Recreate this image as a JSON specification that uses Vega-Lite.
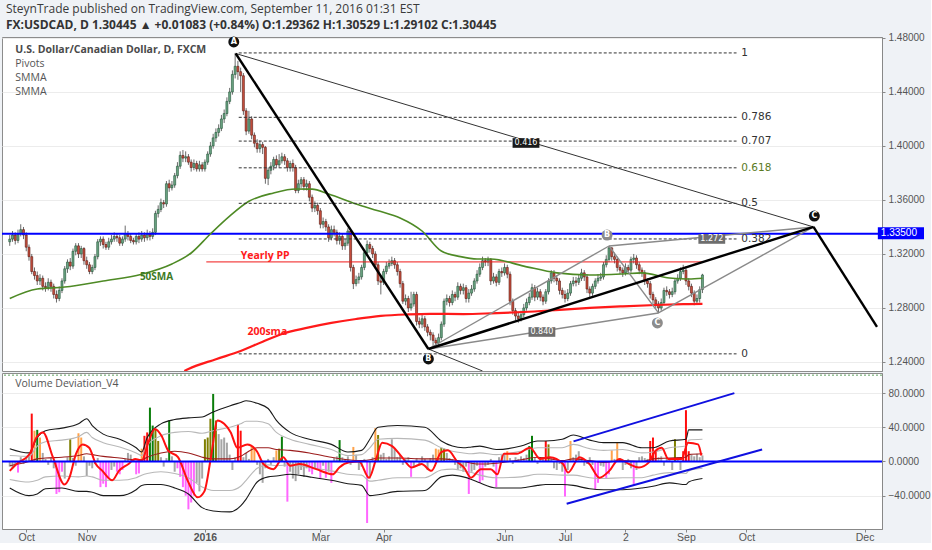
{
  "$schema": "https://vega.github.io/schema/vega-lite/v6.json",
  "background": "#eff2f6",
  "padding": {"left": 0, "top": 3, "right": 0, "bottom": 0},
  "title": {
    "text": "SteynTrade published on TradingView.com, September 11, 2016 01:31 EST",
    "subtitle": "FX:USDCAD, D  1.30445 ▲ +0.01083 (+0.84%)  O:1.29362  H:1.30529  L:1.29102  C:1.30445",
    "anchor": "start", "frame": "group", "dx": 4, "font": "Open Sans", "fontSize": 12, "fontWeight": "normal", "color": "#3a3a3a",
    "subtitleFont": "Open Sans", "subtitleFontSize": 12, "subtitleFontWeight": "bold", "subtitleColor": "#333333",
    "subtitlePadding": 4, "offset": 0
  },
  "datasets": {
    "bars": [
      {"i":0,"o":1.329,"h":1.334,"l":1.326,"c":1.331,"v":-6,"k":"N"},
      {"i":1,"o":1.331,"h":1.337,"l":1.329,"c":1.334,"v":-8,"k":"N"},
      {"i":2,"o":1.334,"h":1.336,"l":1.327,"c":1.330,"v":-4,"k":"N"},
      {"i":3,"o":1.330,"h":1.338,"l":1.328,"c":1.335,"v":-13,"k":"M"},
      {"i":4,"o":1.335,"h":1.342,"l":1.333,"c":1.338,"v":5,"k":"N"},
      {"i":5,"o":1.338,"h":1.340,"l":1.331,"c":1.334,"v":-3,"k":"N"},
      {"i":6,"o":1.334,"h":1.336,"l":1.322,"c":1.325,"v":4,"k":"N"},
      {"i":7,"o":1.325,"h":1.327,"l":1.315,"c":1.318,"v":8,"k":"N"},
      {"i":8,"o":1.318,"h":1.320,"l":1.305,"c":1.307,"v":56,"k":"R"},
      {"i":9,"o":1.307,"h":1.310,"l":1.301,"c":1.304,"v":36,"k":"Y"},
      {"i":10,"o":1.304,"h":1.307,"l":1.297,"c":1.300,"v":37,"k":"G"},
      {"i":11,"o":1.300,"h":1.305,"l":1.297,"c":1.302,"v":28,"k":"Y"},
      {"i":12,"o":1.302,"h":1.304,"l":1.293,"c":1.296,"v":10,"k":"N"},
      {"i":13,"o":1.296,"h":1.299,"l":1.292,"c":1.295,"v":3,"k":"N"},
      {"i":14,"o":1.295,"h":1.302,"l":1.293,"c":1.299,"v":-4,"k":"N"},
      {"i":15,"o":1.299,"h":1.301,"l":1.292,"c":1.296,"v":4,"k":"N"},
      {"i":16,"o":1.296,"h":1.298,"l":1.287,"c":1.290,"v":-8,"k":"N"},
      {"i":17,"o":1.290,"h":1.293,"l":1.284,"c":1.287,"v":-38,"k":"M"},
      {"i":18,"o":1.287,"h":1.296,"l":1.285,"c":1.293,"v":-36,"k":"M"},
      {"i":19,"o":1.293,"h":1.302,"l":1.291,"c":1.300,"v":-12,"k":"M"},
      {"i":20,"o":1.300,"h":1.311,"l":1.298,"c":1.309,"v":-20,"k":"N"},
      {"i":21,"o":1.309,"h":1.316,"l":1.306,"c":1.314,"v":5,"k":"N"},
      {"i":22,"o":1.314,"h":1.317,"l":1.308,"c":1.311,"v":26,"k":"O"},
      {"i":23,"o":1.311,"h":1.324,"l":1.309,"c":1.322,"v":4,"k":"N"},
      {"i":24,"o":1.322,"h":1.328,"l":1.319,"c":1.326,"v":-5,"k":"N"},
      {"i":25,"o":1.326,"h":1.328,"l":1.317,"c":1.320,"v":33,"k":"Y"},
      {"i":26,"o":1.320,"h":1.326,"l":1.317,"c":1.324,"v":28,"k":"Y"},
      {"i":27,"o":1.324,"h":1.325,"l":1.312,"c":1.315,"v":6,"k":"N"},
      {"i":28,"o":1.315,"h":1.318,"l":1.309,"c":1.312,"v":-17,"k":"N"},
      {"i":29,"o":1.312,"h":1.314,"l":1.305,"c":1.307,"v":-5,"k":"N"},
      {"i":30,"o":1.307,"h":1.312,"l":1.305,"c":1.310,"v":-8,"k":"N"},
      {"i":31,"o":1.310,"h":1.320,"l":1.308,"c":1.318,"v":-3,"k":"N"},
      {"i":32,"o":1.318,"h":1.331,"l":1.316,"c":1.329,"v":4,"k":"N"},
      {"i":33,"o":1.329,"h":1.333,"l":1.326,"c":1.331,"v":-30,"k":"M"},
      {"i":34,"o":1.331,"h":1.333,"l":1.324,"c":1.327,"v":-26,"k":"M"},
      {"i":35,"o":1.327,"h":1.329,"l":1.323,"c":1.325,"v":-30,"k":"M"},
      {"i":36,"o":1.325,"h":1.332,"l":1.323,"c":1.329,"v":-20,"k":"M"},
      {"i":37,"o":1.329,"h":1.334,"l":1.327,"c":1.331,"v":-10,"k":"N"},
      {"i":38,"o":1.331,"h":1.336,"l":1.329,"c":1.333,"v":-6,"k":"N"},
      {"i":39,"o":1.333,"h":1.335,"l":1.329,"c":1.332,"v":-12,"k":"M"},
      {"i":40,"o":1.332,"h":1.334,"l":1.326,"c":1.328,"v":-15,"k":"M"},
      {"i":41,"o":1.328,"h":1.333,"l":1.326,"c":1.331,"v":-10,"k":"M"},
      {"i":42,"o":1.331,"h":1.341,"l":1.329,"c":1.335,"v":3,"k":"N"},
      {"i":43,"o":1.335,"h":1.337,"l":1.330,"c":1.333,"v":10,"k":"N"},
      {"i":44,"o":1.333,"h":1.335,"l":1.328,"c":1.330,"v":8,"k":"N"},
      {"i":45,"o":1.330,"h":1.332,"l":1.327,"c":1.329,"v":3,"k":"N"},
      {"i":46,"o":1.329,"h":1.335,"l":1.327,"c":1.333,"v":-15,"k":"M"},
      {"i":47,"o":1.333,"h":1.336,"l":1.328,"c":1.331,"v":-14,"k":"M"},
      {"i":48,"o":1.331,"h":1.337,"l":1.329,"c":1.334,"v":15,"k":"Y"},
      {"i":49,"o":1.334,"h":1.336,"l":1.329,"c":1.332,"v":30,"k":"R"},
      {"i":50,"o":1.332,"h":1.338,"l":1.330,"c":1.335,"v":34,"k":"R"},
      {"i":51,"o":1.335,"h":1.337,"l":1.330,"c":1.333,"v":63,"k":"G"},
      {"i":52,"o":1.333,"h":1.339,"l":1.331,"c":1.336,"v":42,"k":"G"},
      {"i":53,"o":1.336,"h":1.352,"l":1.334,"c":1.350,"v":38,"k":"O"},
      {"i":54,"o":1.350,"h":1.356,"l":1.347,"c":1.353,"v":24,"k":"O"},
      {"i":55,"o":1.353,"h":1.361,"l":1.351,"c":1.358,"v":5,"k":"N"},
      {"i":56,"o":1.358,"h":1.360,"l":1.354,"c":1.357,"v":-6,"k":"N"},
      {"i":57,"o":1.357,"h":1.374,"l":1.355,"c":1.372,"v":4,"k":"N"},
      {"i":58,"o":1.372,"h":1.375,"l":1.366,"c":1.369,"v":48,"k":"G"},
      {"i":59,"o":1.369,"h":1.374,"l":1.367,"c":1.371,"v":6,"k":"N"},
      {"i":60,"o":1.371,"h":1.380,"l":1.369,"c":1.378,"v":-12,"k":"N"},
      {"i":61,"o":1.378,"h":1.388,"l":1.376,"c":1.385,"v":-8,"k":"M"},
      {"i":62,"o":1.385,"h":1.396,"l":1.383,"c":1.393,"v":-18,"k":"M"},
      {"i":63,"o":1.393,"h":1.397,"l":1.388,"c":1.391,"v":-30,"k":"M"},
      {"i":64,"o":1.391,"h":1.396,"l":1.388,"c":1.392,"v":-40,"k":"M"},
      {"i":65,"o":1.392,"h":1.394,"l":1.386,"c":1.388,"v":-56,"k":"M"},
      {"i":66,"o":1.388,"h":1.390,"l":1.381,"c":1.384,"v":-48,"k":"M"},
      {"i":67,"o":1.384,"h":1.390,"l":1.382,"c":1.387,"v":-40,"k":"M"},
      {"i":68,"o":1.387,"h":1.389,"l":1.381,"c":1.383,"v":-25,"k":"N"},
      {"i":69,"o":1.383,"h":1.389,"l":1.381,"c":1.386,"v":-35,"k":"N"},
      {"i":70,"o":1.386,"h":1.388,"l":1.381,"c":1.383,"v":-20,"k":"N"},
      {"i":71,"o":1.383,"h":1.390,"l":1.381,"c":1.388,"v":26,"k":"O"},
      {"i":72,"o":1.388,"h":1.396,"l":1.386,"c":1.394,"v":28,"k":"O"},
      {"i":73,"o":1.394,"h":1.403,"l":1.392,"c":1.400,"v":50,"k":"O"},
      {"i":74,"o":1.400,"h":1.409,"l":1.398,"c":1.406,"v":79,"k":"G"},
      {"i":75,"o":1.406,"h":1.413,"l":1.403,"c":1.410,"v":48,"k":"O"},
      {"i":76,"o":1.410,"h":1.416,"l":1.407,"c":1.413,"v":32,"k":"N"},
      {"i":77,"o":1.413,"h":1.423,"l":1.411,"c":1.420,"v":26,"k":"N"},
      {"i":78,"o":1.420,"h":1.427,"l":1.417,"c":1.424,"v":28,"k":"N"},
      {"i":79,"o":1.424,"h":1.436,"l":1.422,"c":1.433,"v":22,"k":"N"},
      {"i":80,"o":1.433,"h":1.443,"l":1.431,"c":1.440,"v":8,"k":"N"},
      {"i":81,"o":1.440,"h":1.456,"l":1.438,"c":1.453,"v":-10,"k":"N"},
      {"i":82,"o":1.453,"h":1.4689,"l":1.450,"c":1.459,"v":5,"k":"N"},
      {"i":83,"o":1.459,"h":1.463,"l":1.449,"c":1.455,"v":43,"k":"R"},
      {"i":84,"o":1.455,"h":1.458,"l":1.440,"c":1.452,"v":36,"k":"R"},
      {"i":85,"o":1.452,"h":1.454,"l":1.423,"c":1.426,"v":5,"k":"N"},
      {"i":86,"o":1.426,"h":1.428,"l":1.408,"c":1.411,"v":10,"k":"N"},
      {"i":87,"o":1.411,"h":1.426,"l":1.409,"c":1.420,"v":3,"k":"N"},
      {"i":88,"o":1.420,"h":1.422,"l":1.405,"c":1.408,"v":18,"k":"Y"},
      {"i":89,"o":1.408,"h":1.410,"l":1.399,"c":1.402,"v":15,"k":"Y"},
      {"i":90,"o":1.402,"h":1.405,"l":1.395,"c":1.398,"v":-4,"k":"N"},
      {"i":91,"o":1.398,"h":1.404,"l":1.395,"c":1.401,"v":-15,"k":"N"},
      {"i":92,"o":1.401,"h":1.403,"l":1.394,"c":1.399,"v":-25,"k":"N"},
      {"i":93,"o":1.399,"h":1.400,"l":1.372,"c":1.376,"v":-8,"k":"N"},
      {"i":94,"o":1.376,"h":1.384,"l":1.371,"c":1.382,"v":3,"k":"N"},
      {"i":95,"o":1.382,"h":1.388,"l":1.379,"c":1.385,"v":-4,"k":"N"},
      {"i":96,"o":1.385,"h":1.392,"l":1.382,"c":1.390,"v":5,"k":"N"},
      {"i":97,"o":1.390,"h":1.393,"l":1.384,"c":1.386,"v":13,"k":"Y"},
      {"i":98,"o":1.386,"h":1.394,"l":1.384,"c":1.389,"v":15,"k":"O"},
      {"i":99,"o":1.389,"h":1.395,"l":1.387,"c":1.392,"v":29,"k":"G"},
      {"i":100,"o":1.392,"h":1.394,"l":1.386,"c":1.389,"v":-6,"k":"N"},
      {"i":101,"o":1.389,"h":1.391,"l":1.381,"c":1.384,"v":-47,"k":"M"},
      {"i":102,"o":1.384,"h":1.389,"l":1.381,"c":1.387,"v":-12,"k":"N"},
      {"i":103,"o":1.387,"h":1.390,"l":1.381,"c":1.384,"v":-20,"k":"N"},
      {"i":104,"o":1.384,"h":1.386,"l":1.365,"c":1.367,"v":-23,"k":"N"},
      {"i":105,"o":1.367,"h":1.375,"l":1.365,"c":1.372,"v":-15,"k":"N"},
      {"i":106,"o":1.372,"h":1.377,"l":1.369,"c":1.375,"v":-10,"k":"N"},
      {"i":107,"o":1.375,"h":1.377,"l":1.367,"c":1.370,"v":-18,"k":"N"},
      {"i":108,"o":1.370,"h":1.375,"l":1.367,"c":1.372,"v":-8,"k":"N"},
      {"i":109,"o":1.372,"h":1.374,"l":1.359,"c":1.362,"v":-12,"k":"M"},
      {"i":110,"o":1.362,"h":1.364,"l":1.351,"c":1.354,"v":-15,"k":"M"},
      {"i":111,"o":1.354,"h":1.359,"l":1.351,"c":1.356,"v":-8,"k":"N"},
      {"i":112,"o":1.356,"h":1.358,"l":1.349,"c":1.352,"v":-10,"k":"M"},
      {"i":113,"o":1.352,"h":1.354,"l":1.339,"c":1.342,"v":-20,"k":"M"},
      {"i":114,"o":1.342,"h":1.347,"l":1.339,"c":1.344,"v":-5,"k":"N"},
      {"i":115,"o":1.344,"h":1.346,"l":1.337,"c":1.340,"v":-19,"k":"M"},
      {"i":116,"o":1.340,"h":1.342,"l":1.329,"c":1.332,"v":-12,"k":"N"},
      {"i":117,"o":1.332,"h":1.341,"l":1.330,"c":1.338,"v":-25,"k":"M"},
      {"i":118,"o":1.338,"h":1.341,"l":1.333,"c":1.336,"v":4,"k":"N"},
      {"i":119,"o":1.336,"h":1.338,"l":1.327,"c":1.330,"v":6,"k":"N"},
      {"i":120,"o":1.330,"h":1.336,"l":1.327,"c":1.333,"v":25,"k":"G"},
      {"i":121,"o":1.333,"h":1.335,"l":1.323,"c":1.326,"v":5,"k":"N"},
      {"i":122,"o":1.326,"h":1.331,"l":1.323,"c":1.328,"v":3,"k":"N"},
      {"i":123,"o":1.328,"h":1.339,"l":1.326,"c":1.337,"v":6,"k":"N"},
      {"i":124,"o":1.337,"h":1.339,"l":1.307,"c":1.310,"v":-4,"k":"N"},
      {"i":125,"o":1.310,"h":1.312,"l":1.294,"c":1.298,"v":17,"k":"Y"},
      {"i":126,"o":1.298,"h":1.304,"l":1.296,"c":1.301,"v":8,"k":"N"},
      {"i":127,"o":1.301,"h":1.306,"l":1.298,"c":1.303,"v":-10,"k":"N"},
      {"i":128,"o":1.303,"h":1.312,"l":1.301,"c":1.310,"v":-6,"k":"N"},
      {"i":129,"o":1.310,"h":1.323,"l":1.308,"c":1.321,"v":3,"k":"N"},
      {"i":130,"o":1.321,"h":1.330,"l":1.319,"c":1.327,"v":-72,"k":"M"},
      {"i":131,"o":1.327,"h":1.329,"l":1.321,"c":1.324,"v":-20,"k":"N"},
      {"i":132,"o":1.324,"h":1.326,"l":1.317,"c":1.320,"v":5,"k":"N"},
      {"i":133,"o":1.320,"h":1.322,"l":1.309,"c":1.312,"v":39,"k":"Y"},
      {"i":134,"o":1.312,"h":1.314,"l":1.297,"c":1.300,"v":31,"k":"O"},
      {"i":135,"o":1.300,"h":1.303,"l":1.290,"c":1.299,"v":8,"k":"N"},
      {"i":136,"o":1.299,"h":1.309,"l":1.297,"c":1.307,"v":10,"k":"N"},
      {"i":137,"o":1.307,"h":1.314,"l":1.305,"c":1.311,"v":3,"k":"N"},
      {"i":138,"o":1.311,"h":1.316,"l":1.309,"c":1.313,"v":6,"k":"N"},
      {"i":139,"o":1.313,"h":1.318,"l":1.311,"c":1.315,"v":26,"k":"N"},
      {"i":140,"o":1.315,"h":1.317,"l":1.309,"c":1.312,"v":15,"k":"N"},
      {"i":141,"o":1.312,"h":1.314,"l":1.304,"c":1.307,"v":5,"k":"N"},
      {"i":142,"o":1.307,"h":1.309,"l":1.295,"c":1.298,"v":8,"k":"N"},
      {"i":143,"o":1.298,"h":1.300,"l":1.283,"c":1.285,"v":-4,"k":"N"},
      {"i":144,"o":1.285,"h":1.290,"l":1.282,"c":1.287,"v":3,"k":"N"},
      {"i":145,"o":1.287,"h":1.289,"l":1.277,"c":1.280,"v":5,"k":"N"},
      {"i":146,"o":1.280,"h":1.292,"l":1.278,"c":1.283,"v":-18,"k":"M"},
      {"i":147,"o":1.283,"h":1.292,"l":1.281,"c":1.290,"v":-6,"k":"N"},
      {"i":148,"o":1.290,"h":1.292,"l":1.267,"c":1.270,"v":4,"k":"N"},
      {"i":149,"o":1.270,"h":1.273,"l":1.265,"c":1.268,"v":-5,"k":"N"},
      {"i":150,"o":1.268,"h":1.275,"l":1.265,"c":1.272,"v":6,"k":"N"},
      {"i":151,"o":1.272,"h":1.274,"l":1.263,"c":1.266,"v":3,"k":"N"},
      {"i":152,"o":1.266,"h":1.268,"l":1.259,"c":1.262,"v":-10,"k":"N"},
      {"i":153,"o":1.262,"h":1.264,"l":1.256,"c":1.260,"v":4,"k":"N"},
      {"i":154,"o":1.260,"h":1.262,"l":1.2495,"c":1.256,"v":8,"k":"N"},
      {"i":155,"o":1.256,"h":1.258,"l":1.251,"c":1.254,"v":15,"k":"Y"},
      {"i":156,"o":1.254,"h":1.261,"l":1.252,"c":1.258,"v":14,"k":"Y"},
      {"i":157,"o":1.258,"h":1.270,"l":1.256,"c":1.268,"v":16,"k":"O"},
      {"i":158,"o":1.268,"h":1.287,"l":1.266,"c":1.285,"v":15,"k":"O"},
      {"i":159,"o":1.285,"h":1.290,"l":1.282,"c":1.287,"v":10,"k":"N"},
      {"i":160,"o":1.287,"h":1.289,"l":1.281,"c":1.284,"v":4,"k":"N"},
      {"i":161,"o":1.284,"h":1.293,"l":1.282,"c":1.290,"v":3,"k":"N"},
      {"i":162,"o":1.290,"h":1.292,"l":1.285,"c":1.288,"v":-4,"k":"N"},
      {"i":163,"o":1.288,"h":1.299,"l":1.286,"c":1.296,"v":-10,"k":"N"},
      {"i":164,"o":1.296,"h":1.298,"l":1.290,"c":1.293,"v":-8,"k":"N"},
      {"i":165,"o":1.293,"h":1.298,"l":1.290,"c":1.295,"v":-12,"k":"N"},
      {"i":166,"o":1.295,"h":1.297,"l":1.284,"c":1.287,"v":-6,"k":"N"},
      {"i":167,"o":1.287,"h":1.294,"l":1.284,"c":1.291,"v":-38,"k":"M"},
      {"i":168,"o":1.291,"h":1.297,"l":1.289,"c":1.294,"v":-12,"k":"N"},
      {"i":169,"o":1.294,"h":1.302,"l":1.292,"c":1.300,"v":-10,"k":"N"},
      {"i":170,"o":1.300,"h":1.308,"l":1.298,"c":1.305,"v":-5,"k":"N"},
      {"i":171,"o":1.305,"h":1.313,"l":1.303,"c":1.310,"v":-25,"k":"M"},
      {"i":172,"o":1.310,"h":1.318,"l":1.308,"c":1.315,"v":-22,"k":"M"},
      {"i":173,"o":1.315,"h":1.317,"l":1.311,"c":1.314,"v":-6,"k":"N"},
      {"i":174,"o":1.314,"h":1.318,"l":1.311,"c":1.316,"v":-4,"k":"N"},
      {"i":175,"o":1.316,"h":1.317,"l":1.297,"c":1.300,"v":3,"k":"N"},
      {"i":176,"o":1.300,"h":1.306,"l":1.298,"c":1.303,"v":-6,"k":"N"},
      {"i":177,"o":1.303,"h":1.305,"l":1.296,"c":1.299,"v":-30,"k":"M"},
      {"i":178,"o":1.299,"h":1.309,"l":1.297,"c":1.307,"v":5,"k":"N"},
      {"i":179,"o":1.307,"h":1.310,"l":1.303,"c":1.306,"v":8,"k":"N"},
      {"i":180,"o":1.306,"h":1.313,"l":1.304,"c":1.310,"v":10,"k":"N"},
      {"i":181,"o":1.310,"h":1.312,"l":1.302,"c":1.305,"v":12,"k":"Y"},
      {"i":182,"o":1.305,"h":1.307,"l":1.282,"c":1.285,"v":4,"k":"N"},
      {"i":183,"o":1.285,"h":1.287,"l":1.275,"c":1.278,"v":-3,"k":"N"},
      {"i":184,"o":1.278,"h":1.280,"l":1.271,"c":1.274,"v":5,"k":"N"},
      {"i":185,"o":1.274,"h":1.277,"l":1.269,"c":1.272,"v":3,"k":"N"},
      {"i":186,"o":1.272,"h":1.278,"l":1.270,"c":1.275,"v":6,"k":"N"},
      {"i":187,"o":1.275,"h":1.283,"l":1.273,"c":1.280,"v":4,"k":"N"},
      {"i":188,"o":1.280,"h":1.287,"l":1.278,"c":1.284,"v":8,"k":"N"},
      {"i":189,"o":1.284,"h":1.291,"l":1.282,"c":1.288,"v":18,"k":"G"},
      {"i":190,"o":1.288,"h":1.298,"l":1.286,"c":1.295,"v":30,"k":"G"},
      {"i":191,"o":1.295,"h":1.297,"l":1.285,"c":1.288,"v":5,"k":"N"},
      {"i":192,"o":1.288,"h":1.295,"l":1.286,"c":1.292,"v":-3,"k":"N"},
      {"i":193,"o":1.292,"h":1.294,"l":1.285,"c":1.288,"v":4,"k":"N"},
      {"i":194,"o":1.288,"h":1.290,"l":1.282,"c":1.285,"v":5,"k":"N"},
      {"i":195,"o":1.285,"h":1.294,"l":1.283,"c":1.292,"v":24,"k":"R"},
      {"i":196,"o":1.292,"h":1.302,"l":1.290,"c":1.300,"v":20,"k":"O"},
      {"i":197,"o":1.300,"h":1.308,"l":1.298,"c":1.306,"v":4,"k":"N"},
      {"i":198,"o":1.306,"h":1.308,"l":1.299,"c":1.302,"v":-8,"k":"N"},
      {"i":199,"o":1.302,"h":1.304,"l":1.297,"c":1.300,"v":-10,"k":"N"},
      {"i":200,"o":1.300,"h":1.302,"l":1.290,"c":1.293,"v":-3,"k":"N"},
      {"i":201,"o":1.293,"h":1.295,"l":1.287,"c":1.290,"v":-12,"k":"N"},
      {"i":202,"o":1.290,"h":1.293,"l":1.284,"c":1.287,"v":-41,"k":"M"},
      {"i":203,"o":1.287,"h":1.294,"l":1.285,"c":1.291,"v":-10,"k":"N"},
      {"i":204,"o":1.291,"h":1.300,"l":1.289,"c":1.298,"v":24,"k":"Y"},
      {"i":205,"o":1.298,"h":1.303,"l":1.296,"c":1.300,"v":5,"k":"N"},
      {"i":206,"o":1.300,"h":1.303,"l":1.296,"c":1.299,"v":8,"k":"N"},
      {"i":207,"o":1.299,"h":1.305,"l":1.297,"c":1.302,"v":12,"k":"N"},
      {"i":208,"o":1.302,"h":1.309,"l":1.300,"c":1.306,"v":3,"k":"N"},
      {"i":209,"o":1.306,"h":1.308,"l":1.300,"c":1.303,"v":-5,"k":"N"},
      {"i":210,"o":1.303,"h":1.305,"l":1.291,"c":1.294,"v":-3,"k":"N"},
      {"i":211,"o":1.294,"h":1.296,"l":1.288,"c":1.291,"v":5,"k":"N"},
      {"i":212,"o":1.291,"h":1.298,"l":1.289,"c":1.296,"v":-4,"k":"N"},
      {"i":213,"o":1.296,"h":1.302,"l":1.294,"c":1.300,"v":-33,"k":"M"},
      {"i":214,"o":1.300,"h":1.305,"l":1.298,"c":1.302,"v":-25,"k":"M"},
      {"i":215,"o":1.302,"h":1.306,"l":1.300,"c":1.303,"v":-5,"k":"N"},
      {"i":216,"o":1.303,"h":1.314,"l":1.301,"c":1.312,"v":-6,"k":"N"},
      {"i":217,"o":1.312,"h":1.319,"l":1.310,"c":1.316,"v":-20,"k":"M"},
      {"i":218,"o":1.316,"h":1.326,"l":1.314,"c":1.3245,"v":-15,"k":"M"},
      {"i":219,"o":1.3245,"h":1.325,"l":1.315,"c":1.318,"v":13,"k":"Y"},
      {"i":220,"o":1.318,"h":1.321,"l":1.313,"c":1.316,"v":3,"k":"N"},
      {"i":221,"o":1.316,"h":1.318,"l":1.307,"c":1.310,"v":22,"k":"Y"},
      {"i":222,"o":1.310,"h":1.312,"l":1.305,"c":1.308,"v":4,"k":"N"},
      {"i":223,"o":1.308,"h":1.310,"l":1.303,"c":1.306,"v":-10,"k":"N"},
      {"i":224,"o":1.306,"h":1.313,"l":1.304,"c":1.310,"v":-4,"k":"N"},
      {"i":225,"o":1.310,"h":1.312,"l":1.305,"c":1.308,"v":3,"k":"N"},
      {"i":226,"o":1.308,"h":1.318,"l":1.306,"c":1.316,"v":-8,"k":"N"},
      {"i":227,"o":1.316,"h":1.320,"l":1.313,"c":1.317,"v":-27,"k":"M"},
      {"i":228,"o":1.317,"h":1.319,"l":1.309,"c":1.312,"v":-10,"k":"N"},
      {"i":229,"o":1.312,"h":1.314,"l":1.305,"c":1.308,"v":5,"k":"N"},
      {"i":230,"o":1.308,"h":1.310,"l":1.303,"c":1.306,"v":6,"k":"N"},
      {"i":231,"o":1.306,"h":1.308,"l":1.297,"c":1.300,"v":4,"k":"N"},
      {"i":232,"o":1.300,"h":1.302,"l":1.295,"c":1.298,"v":3,"k":"N"},
      {"i":233,"o":1.298,"h":1.300,"l":1.287,"c":1.290,"v":24,"k":"R"},
      {"i":234,"o":1.290,"h":1.292,"l":1.283,"c":1.286,"v":28,"k":"R"},
      {"i":235,"o":1.286,"h":1.288,"l":1.280,"c":1.283,"v":12,"k":"R"},
      {"i":236,"o":1.283,"h":1.285,"l":1.276,"c":1.280,"v":5,"k":"N"},
      {"i":237,"o":1.280,"h":1.287,"l":1.278,"c":1.284,"v":6,"k":"N"},
      {"i":238,"o":1.284,"h":1.295,"l":1.282,"c":1.293,"v":-5,"k":"N"},
      {"i":239,"o":1.293,"h":1.296,"l":1.289,"c":1.292,"v":5,"k":"N"},
      {"i":240,"o":1.292,"h":1.294,"l":1.287,"c":1.290,"v":3,"k":"N"},
      {"i":241,"o":1.290,"h":1.295,"l":1.288,"c":1.292,"v":-10,"k":"N"},
      {"i":242,"o":1.292,"h":1.302,"l":1.290,"c":1.300,"v":26,"k":"O"},
      {"i":243,"o":1.300,"h":1.305,"l":1.298,"c":1.302,"v":5,"k":"N"},
      {"i":244,"o":1.302,"h":1.310,"l":1.300,"c":1.307,"v":-10,"k":"N"},
      {"i":245,"o":1.307,"h":1.312,"l":1.305,"c":1.308,"v":12,"k":"R"},
      {"i":246,"o":1.308,"h":1.311,"l":1.297,"c":1.300,"v":60,"k":"R"},
      {"i":247,"o":1.300,"h":1.302,"l":1.293,"c":1.296,"v":12,"k":"R"},
      {"i":248,"o":1.296,"h":1.298,"l":1.288,"c":1.291,"v":8,"k":"N"},
      {"i":249,"o":1.291,"h":1.293,"l":1.282,"c":1.285,"v":6,"k":"N"},
      {"i":250,"o":1.285,"h":1.290,"l":1.283,"c":1.287,"v":9,"k":"N"},
      {"i":251,"o":1.287,"h":1.296,"l":1.284,"c":1.2936,"v":5,"k":"N"},
      {"i":252,"o":1.29362,"h":1.30529,"l":1.29102,"c":1.30445,"v":7,"k":"N"}
    ],
    "sma50": [
      {"i":0,"p":1.287},{"i":10,"p":1.294},{"i":20,"p":1.2955},{"i":34,"p":1.300},{"i":48,"p":1.305},
      {"i":59,"p":1.3126},{"i":66,"p":1.3207},{"i":73,"p":1.3348},{"i":80,"p":1.348},{"i":87,"p":1.359},
      {"i":96,"p":1.3652},{"i":104,"p":1.3681},{"i":110,"p":1.368},{"i":116,"p":1.3644},{"i":126,"p":1.357},
      {"i":134,"p":1.352},{"i":142,"p":1.3467},{"i":150,"p":1.337},{"i":157,"p":1.3222},{"i":164,"p":1.318},
      {"i":170,"p":1.3163},{"i":175,"p":1.3163},{"i":187,"p":1.311},{"i":199,"p":1.306},{"i":211,"p":1.3044},
      {"i":223,"p":1.3052},{"i":230,"p":1.306},{"i":240,"p":1.3022},{"i":247,"p":1.3015},{"i":252,"p":1.302}
    ],
    "sma200": [
      {"i":63.5,"p":1.2333},{"i":65,"p":1.2348},{"i":75,"p":1.242},{"i":84,"p":1.2481},{"i":92,"p":1.255},
      {"i":99,"p":1.2607},{"i":108,"p":1.2652},{"i":117,"p":1.2689},{"i":126,"p":1.2718},{"i":135,"p":1.2741},
      {"i":145,"p":1.2752},{"i":153,"p":1.2756},{"i":165,"p":1.2755},{"i":175,"p":1.276},{"i":187,"p":1.277},
      {"i":200,"p":1.2786},{"i":211,"p":1.28},{"i":223,"p":1.2812},{"i":235,"p":1.2822},{"i":245,"p":1.2828},{"i":252,"p":1.283}
    ],
    "fib": [
      {"lv":"1","p":1.4689},{"lv":"0.786","p":1.4212},{"lv":"0.707","p":1.4036},{"lv":"0.618","p":1.3838},
      {"lv":"0.5","p":1.3575},{"lv":"0.382","p":1.3311},{"lv":"0","p":1.246}
    ],
    "pattern": [
      {"s":"AB","kind":"main","i":82.2,"p":1.4685},{"s":"AB","kind":"main","i":152.3,"p":1.2496},
      {"s":"BC","kind":"main","i":152.3,"p":1.2496},{"s":"BC","kind":"main","i":292.4,"p":1.34},
      {"s":"CD","kind":"main","i":292.4,"p":1.34},{"s":"CD","kind":"main","i":315.5,"p":1.266},
      {"s":"AC","kind":"guide","i":82.2,"p":1.4685},{"s":"AC","kind":"guide","i":292.4,"p":1.34},
      {"s":"Bx","kind":"guide","i":152.3,"p":1.2496},{"s":"Bx","kind":"guide","i":172,"p":1.2333},
      {"s":"Bb","kind":"inner","i":152.3,"p":1.2496},{"s":"Bb","kind":"inner","i":218,"p":1.3259},
      {"s":"bc","kind":"inner","i":218,"p":1.3259},{"s":"bc","kind":"inner","i":236,"p":1.2763},
      {"s":"cC","kind":"inner","i":236,"p":1.2763},{"s":"cC","kind":"inner","i":292.4,"p":1.34},
      {"s":"bC","kind":"inner","i":218,"p":1.3259},{"s":"bC","kind":"inner","i":292.4,"p":1.34},
      {"s":"Bc","kind":"inner","i":152.3,"p":1.2496},{"s":"Bc","kind":"inner","i":236,"p":1.2763}
    ],
    "points": [
      {"t":"A","kind":"main","i":81.5,"p":1.477},
      {"t":"B","kind":"main","i":152.3,"p":1.2422},
      {"t":"B","kind":"inner","i":217.3,"p":1.334},
      {"t":"C","kind":"inner","i":235.6,"p":1.2689},
      {"t":"C","kind":"main","i":292.7,"p":1.3481}
    ],
    "ratios": [
      {"t":"0.416","kind":"main","i":187.8,"p":1.4022},
      {"t":"0.840","kind":"inner","i":193.6,"p":1.2622},
      {"t":"1.272","kind":"inner","i":255.4,"p":1.3311}
    ],
    "bands": [
      {"i":0,"up":15,"lo":-31,"md":-5,"gu":7,"gl":-21},
      {"i":7,"up":10,"lo":-40,"md":0,"gu":6,"gl":-24},
      {"i":10,"up":28,"lo":-38,"md":3,"gu":18,"gl":-22},
      {"i":13,"up":36,"lo":-32,"md":4,"gu":23,"gl":-18},
      {"i":19,"up":39,"lo":-31,"md":5,"gu":25,"gl":-17},
      {"i":25,"up":44,"lo":-35,"md":7,"gu":29,"gl":-18},
      {"i":28,"up":50,"lo":-35,"md":9,"gu":34,"gl":-17},
      {"i":30,"up":42,"lo":-36,"md":8,"gu":28,"gl":-18},
      {"i":34,"up":32,"lo":-40,"md":6,"gu":22,"gl":-22},
      {"i":40,"up":26,"lo":-40,"md":4,"gu":17,"gl":-22},
      {"i":46,"up":16,"lo":-33,"md":2,"gu":10,"gl":-19},
      {"i":48,"up":11,"lo":-28,"md":2,"gu":7,"gl":-16},
      {"i":50,"up":28,"lo":-27,"md":5,"gu":19,"gl":-14},
      {"i":55,"up":44,"lo":-27,"md":10,"gu":30,"gl":-12},
      {"i":60,"up":49,"lo":-31,"md":12,"gu":34,"gl":-14},
      {"i":65,"up":51,"lo":-38,"md":10,"gu":35,"gl":-19},
      {"i":70,"up":52,"lo":-54,"md":5,"gu":33,"gl":-30},
      {"i":74,"up":58,"lo":-58,"md":3,"gu":36,"gl":-34},
      {"i":80,"up":65,"lo":-59,"md":3,"gu":40,"gl":-34},
      {"i":84,"up":69,"lo":-52,"md":6,"gu":44,"gl":-29},
      {"i":86,"up":71,"lo":-44,"md":10,"gu":47,"gl":-22},
      {"i":90,"up":68,"lo":-24,"md":16,"gu":47,"gl":-8},
      {"i":94,"up":62,"lo":-18,"md":16,"gu":44,"gl":-4},
      {"i":97,"up":48,"lo":-17,"md":14,"gu":34,"gl":-5},
      {"i":102,"up":34,"lo":-15,"md":13,"gu":26,"gl":-4},
      {"i":109,"up":26,"lo":-18,"md":10,"gu":20,"gl":-7},
      {"i":117,"up":20,"lo":-22,"md":5,"gu":14,"gl":-11},
      {"i":123,"up":11,"lo":-26,"md":2,"gu":7,"gl":-15},
      {"i":128,"up":13,"lo":-28,"md":1,"gu":8,"gl":-16},
      {"i":131,"up":26,"lo":-40,"md":2,"gu":16,"gl":-23},
      {"i":134,"up":40,"lo":-39,"md":4,"gu":26,"gl":-22},
      {"i":141,"up":42,"lo":-35,"md":4,"gu":27,"gl":-19},
      {"i":151,"up":40,"lo":-34,"md":3,"gu":25,"gl":-19},
      {"i":157,"up":24,"lo":-18,"md":3,"gu":16,"gl":-10},
      {"i":161,"up":18,"lo":-16,"md":2,"gu":12,"gl":-9},
      {"i":165,"up":16,"lo":-18,"md":0,"gu":10,"gl":-11},
      {"i":168,"up":17,"lo":-21,"md":-2,"gu":9,"gl":-13},
      {"i":171,"up":18,"lo":-25,"md":-3,"gu":10,"gl":-16},
      {"i":177,"up":14,"lo":-31,"md":-2,"gu":8,"gl":-19},
      {"i":186,"up":18,"lo":-31,"md":2,"gu":12,"gl":-18},
      {"i":192,"up":24,"lo":-28,"md":5,"gu":16,"gl":-15},
      {"i":195,"up":24,"lo":-27,"md":4,"gu":16,"gl":-15},
      {"i":201,"up":26,"lo":-27,"md":1,"gu":16,"gl":-16},
      {"i":205,"up":31,"lo":-28,"md":3,"gu":20,"gl":-16},
      {"i":211,"up":25,"lo":-32,"md":1,"gu":15,"gl":-19},
      {"i":216,"up":22,"lo":-33,"md":-1,"gu":13,"gl":-20},
      {"i":223,"up":22,"lo":-33,"md":1,"gu":14,"gl":-19},
      {"i":230,"up":16,"lo":-31,"md":0,"gu":10,"gl":-19},
      {"i":234,"up":16,"lo":-29,"md":3,"gu":11,"gl":-16},
      {"i":240,"up":24,"lo":-25,"md":4,"gu":16,"gl":-13},
      {"i":246,"up":26,"lo":-27,"md":5,"gu":18,"gl":-14},
      {"i":247,"up":37,"lo":-24,"md":8,"gu":25,"gl":-11},
      {"i":252,"up":37,"lo":-20,"md":9,"gu":26,"gl":-8}
    ],
    "signal": [
      {"i":0,"v":-11},{"i":2.5,"v":-3},{"i":7.3,"v":9},{"i":9.7,"v":28},{"i":12.1,"v":34},{"i":15.7,"v":5},
      {"i":19.9,"v":-27},{"i":21.7,"v":-19},{"i":24.1,"v":9},{"i":26.5,"v":20},{"i":28.9,"v":16},{"i":31.3,"v":-3},
      {"i":33.7,"v":-11},{"i":37.3,"v":-22},{"i":39.7,"v":-11},{"i":43.2,"v":-3},{"i":45.6,"v":3},{"i":48,"v":1},
      {"i":50.4,"v":22},{"i":52.8,"v":38},{"i":55.2,"v":30},{"i":57.6,"v":13},{"i":61.2,"v":5},{"i":64.8,"v":-23},
      {"i":68.4,"v":-42},{"i":70.8,"v":-35},{"i":73.2,"v":5},{"i":75.6,"v":48},{"i":78,"v":44},{"i":80.4,"v":34},
      {"i":82.8,"v":16},{"i":86.4,"v":20},{"i":89.9,"v":12},{"i":92.3,"v":-3},{"i":95.9,"v":-9},{"i":99.5,"v":5},
      {"i":102,"v":-5},{"i":105.5,"v":-3},{"i":111.5,"v":-9},{"i":117.5,"v":-15},{"i":119.9,"v":-7},{"i":123.5,"v":-1},
      {"i":127.1,"v":0},{"i":130.7,"v":-19},{"i":133.1,"v":1},{"i":135.5,"v":22},{"i":139.1,"v":18},{"i":142.7,"v":5},
      {"i":146.2,"v":-7},{"i":149.8,"v":-3},{"i":153.4,"v":-11},{"i":157,"v":11},{"i":159.4,"v":13},{"i":163,"v":-1},
      {"i":165.2,"v":-7},{"i":167.8,"v":-19},{"i":171.4,"v":-9},{"i":175,"v":-9},{"i":177.4,"v":-15},{"i":179.8,"v":9},
      {"i":184.5,"v":9},{"i":189.3,"v":16},{"i":192.9,"v":3},{"i":196.5,"v":5},{"i":201.3,"v":-3},{"i":203.1,"v":-13},
      {"i":207.3,"v":5},{"i":210.9,"v":-3},{"i":214.5,"v":-19},{"i":218.1,"v":-11},{"i":221.7,"v":3},{"i":225.3,"v":-3},
      {"i":228.9,"v":-7},{"i":232.5,"v":-1},{"i":234.8,"v":12},{"i":237.2,"v":16},{"i":239.6,"v":3},{"i":244.4,"v":3},
      {"i":246.8,"v":22},{"i":250.4,"v":20},{"i":251.6,"v":7}
    ],
    "channel": [
      {"s":"top","i":205.1,"v":23.5},{"s":"top","i":263.6,"v":80},
      {"s":"bottom","i":202.6,"v":-49.4},{"s":"bottom","i":273.7,"v":14.1}
    ]
  },
  "spacing": 0,
  "vconcat": [
    {
      "width": 880,
      "height": 334,
      "layer": [
        {
          "data": {"name": "bars"},
          "mark": {"type": "rule", "color": "#6a6a6a", "strokeWidth": 1},
          "encoding": {
            "x": {"field": "i", "type": "quantitative", "scale": {"domain": [-1, 315.5], "nice": false, "zero": false}, "axis": null},
            "y": {"field": "l", "type": "quantitative", "scale": {"domain": [1.2333, 1.4807], "nice": false, "zero": false},
              "axis": {"orient": "right", "title": null, "values": [1.24,1.26,1.28,1.3,1.32,1.34,1.36,1.38,1.4,1.42,1.44,1.46,1.48], "format": ".5f",
                "grid": true, "gridColor": "#ececec", "tickSize": 3, "tickColor": "#888", "domainColor": "#888",
                "labelFont": "Liberation Sans", "labelFontSize": 10, "labelColor": "#555", "labelPadding": 3}},
            "y2": {"field": "h"}
          }
        },
        {
          "data": {"name": "bars"},
          "mark": {"type": "bar", "width": 2, "strokeWidth": 0.6},
          "encoding": {
            "x": {"field": "i", "type": "quantitative"},
            "y": {"field": "o", "type": "quantitative"},
            "y2": {"field": "c"},
            "color": {"condition": {"test": "datum.c >= datum.o", "value": "#6ba583"}, "value": "#c9503e"},
            "stroke": {"condition": {"test": "datum.c >= datum.o", "value": "#225437"}, "value": "#5b1a13"}
          }
        },
        {
          "data": {"values": [{}]},
          "mark": {"type": "rule", "color": "#0000ff", "strokeWidth": 2},
          "encoding": {"y": {"datum": 1.335}}
        },
        {
          "data": {"values": [{}]},
          "mark": {"type": "rule", "color": "#f01818", "strokeWidth": 1},
          "encoding": {"x": {"datum": 71.5}, "x2": {"datum": 252.5}, "y": {"datum": 1.3141}}
        },
        {
          "data": {"name": "sma50"},
          "mark": {"type": "line", "color": "#4e8a25", "strokeWidth": 1.6, "interpolate": "monotone", "clip": true},
          "encoding": {"x": {"field": "i", "type": "quantitative"}, "y": {"field": "p", "type": "quantitative"}}
        },
        {
          "data": {"name": "sma200"},
          "mark": {"type": "line", "color": "#ff1a1a", "strokeWidth": 2.2, "interpolate": "monotone", "clip": true},
          "encoding": {"x": {"field": "i", "type": "quantitative"}, "y": {"field": "p", "type": "quantitative"}}
        },
        {
          "data": {"name": "fib"},
          "mark": {"type": "rule", "color": "#333", "strokeWidth": 1, "strokeDash": [3, 2]},
          "encoding": {"x": {"datum": 83.3}, "x2": {"datum": 264.4}, "y": {"field": "p", "type": "quantitative"}}
        },
        {
          "data": {"name": "fib"},
          "mark": {"type": "text", "align": "left", "baseline": "middle", "font": "DejaVu Sans", "fontSize": 10.5, "dx": 2},
          "encoding": {
            "x": {"datum": 265.4}, "y": {"field": "p", "type": "quantitative"}, "text": {"field": "lv"},
            "color": {"condition": {"test": "datum.lv == '0.618'", "value": "#5a7a1e"}, "value": "#333"}
          }
        },
        {
          "data": {"name": "pattern"},
          "transform": [{"filter": "datum.kind == 'guide'"}],
          "mark": {"type": "line", "color": "#333", "strokeWidth": 1, "clip": true},
          "encoding": {"x": {"field": "i", "type": "quantitative"}, "y": {"field": "p", "type": "quantitative"}, "detail": {"field": "s"}}
        },
        {
          "data": {"name": "pattern"},
          "transform": [{"filter": "datum.kind == 'inner'"}],
          "mark": {"type": "line", "color": "#8a8a8a", "strokeWidth": 1.4, "clip": true},
          "encoding": {"x": {"field": "i", "type": "quantitative"}, "y": {"field": "p", "type": "quantitative"}, "detail": {"field": "s"}}
        },
        {
          "data": {"name": "pattern"},
          "transform": [{"filter": "datum.kind == 'main'"}],
          "mark": {"type": "line", "color": "#000", "strokeWidth": 2.4, "clip": true},
          "encoding": {"x": {"field": "i", "type": "quantitative"}, "y": {"field": "p", "type": "quantitative"}, "detail": {"field": "s"}}
        },
        {
          "data": {"name": "ratios"},
          "mark": {"type": "point", "filled": true, "opacity": 1, "size": 460, "shape": "M-1.25,-0.45L1.25,-0.45L1.25,0.45L-1.25,0.45Z"},
          "encoding": {
            "x": {"field": "i", "type": "quantitative"}, "y": {"field": "p", "type": "quantitative"},
            "color": {"condition": {"test": "datum.kind == 'main'", "value": "#1a1a1a"}, "value": "#6e6e6e"}
          }
        },
        {
          "data": {"name": "ratios"},
          "mark": {"type": "text", "color": "white", "font": "DejaVu Sans", "fontSize": 8, "baseline": "middle"},
          "encoding": {"x": {"field": "i", "type": "quantitative"}, "y": {"field": "p", "type": "quantitative"}, "text": {"field": "t"}}
        },
        {
          "data": {"name": "points"},
          "mark": {"type": "point", "shape": "circle", "filled": true, "opacity": 1, "size": 120},
          "encoding": {
            "x": {"field": "i", "type": "quantitative"}, "y": {"field": "p", "type": "quantitative"},
            "color": {"condition": {"test": "datum.kind == 'main'", "value": "#111"}, "value": "#8c8c8c"}
          }
        },
        {
          "data": {"name": "points"},
          "mark": {"type": "text", "color": "white", "font": "DejaVu Sans", "fontSize": 8, "fontWeight": "bold", "baseline": "middle"},
          "encoding": {"x": {"field": "i", "type": "quantitative"}, "y": {"field": "p", "type": "quantitative"}, "text": {"field": "t"}}
        },
        {
          "data": {"values": [{}]},
          "mark": {"type": "rect", "color": "#0000ff", "clip": false},
          "encoding": {"x": {"datum": 315.8}, "x2": {"datum": 332.6}, "y": {"datum": 1.3309}, "y2": {"datum": 1.3398}}
        },
        {
          "data": {"values": [{}]},
          "mark": {"type": "text", "color": "white", "font": "Liberation Sans", "fontSize": 10, "align": "left", "baseline": "middle", "dx": 3, "clip": false},
          "encoding": {"x": {"datum": 315.8}, "y": {"datum": 1.33535}, "text": {"value": "1.33500"}}
        },
        {
          "data": {"values": [{}]},
          "mark": {"type": "text", "color": "#ff1a1a", "font": "Open Sans", "fontSize": 10.5, "fontWeight": "bold", "align": "left", "baseline": "middle"},
          "encoding": {"x": {"datum": 84}, "y": {"datum": 1.3182}, "text": {"value": "Yearly PP"}}
        },
        {
          "data": {"values": [{}]},
          "mark": {"type": "text", "color": "#3d7a1f", "font": "Open Sans", "fontSize": 10, "fontWeight": "bold", "baseline": "middle"},
          "encoding": {"x": {"datum": 53.4}, "y": {"datum": 1.303}, "text": {"value": "50SMA"}}
        },
        {
          "data": {"values": [{}]},
          "mark": {"type": "text", "color": "#ff1a1a", "font": "Open Sans", "fontSize": 10.5, "fontWeight": "bold", "baseline": "middle"},
          "encoding": {"x": {"datum": 93.7}, "y": {"datum": 1.2622}, "text": {"value": "200sma"}}
        },
        {
          "data": {"values": [{}]},
          "mark": {"type": "text", "color": "#4a4a4a", "font": "Open Sans", "fontSize": 10.5, "fontWeight": "bold", "align": "left", "baseline": "middle"},
          "encoding": {"x": {"datum": 2}, "y": {"datum": 1.4713}, "text": {"value": "U.S. Dollar/Canadian Dollar, D, FXCM"}}
        },
        {
          "data": {"values": [{}]},
          "mark": {"type": "text", "color": "#555", "font": "Open Sans", "fontSize": 10.5, "align": "left", "baseline": "middle"},
          "encoding": {"x": {"datum": 2}, "y": {"datum": 1.4607}, "text": {"value": "Pivots"}}
        },
        {
          "data": {"values": [{}]},
          "mark": {"type": "text", "color": "#555", "font": "Open Sans", "fontSize": 10.5, "align": "left", "baseline": "middle"},
          "encoding": {"x": {"datum": 2}, "y": {"datum": 1.4504}, "text": {"value": "SMMA"}}
        },
        {
          "data": {"values": [{}]},
          "mark": {"type": "text", "color": "#555", "font": "Open Sans", "fontSize": 10.5, "align": "left", "baseline": "middle"},
          "encoding": {"x": {"datum": 2}, "y": {"datum": 1.44}, "text": {"value": "SMMA"}}
        }
      ]
    },
    {
      "width": 880,
      "height": 156,
      "layer": [
        {
          "data": {"name": "bars"},
          "mark": {"type": "bar", "width": 2},
          "encoding": {
            "x": {"field": "i", "type": "quantitative", "scale": {"domain": [-1, 315.5], "nice": false, "zero": false},
              "axis": {"title": null, "values": [6,28,71,113,136,180,202,224,246,268,311],
                "labelExpr": "['Oct','Nov','2016','Mar','Apr','Jun','Jul','2','Sep','Oct','Dec'][indexof([6,28,71,113,136,180,202,224,246,268,311], datum.value)]",
                "labelFontWeight": {"condition": {"test": "datum.value == 71", "value": "bold"}, "value": "normal"},
                "grid": false, "tickSize": 3, "tickColor": "#888", "domainColor": "#888", "labelFont": "Liberation Sans", "labelFontSize": 10.5, "labelColor": "#555", "labelPadding": 0}},
            "y": {"field": "v", "type": "quantitative", "scale": {"domain": [-79, 103.5], "nice": false, "zero": false},
              "axis": {"orient": "right", "title": null, "values": [80, 40, 0, -40], "format": ".4f",
                "grid": true, "gridColor": "#ececec", "tickSize": 3, "tickColor": "#888", "domainColor": "#888",
                "labelFont": "Liberation Sans", "labelFontSize": 10, "labelColor": "#555", "labelPadding": 3}},
            "y2": {"datum": 0},
            "color": {"field": "k", "type": "nominal", "legend": null,
              "scale": {"domain": ["G", "O", "Y", "R", "N", "M"], "range": ["#0a7d0a", "#7f7f00", "#ffa24a", "#ff0d0d", "#a6a6a6", "#ff66ff"]}}
          }
        },
        {
          "data": {"name": "bands"},
          "transform": [{"fold": ["gu", "gl", "md", "up", "lo"], "as": ["band", "val"]}],
          "mark": {"type": "line", "strokeWidth": 1.1, "interpolate": "monotone"},
          "encoding": {
            "x": {"field": "i", "type": "quantitative"},
            "y": {"field": "val", "type": "quantitative"},
            "detail": {"field": "band"},
            "stroke": {"field": "band", "type": "nominal", "legend": null,
              "scale": {"domain": ["gu", "gl", "md", "up", "lo"], "range": ["#b8b8b8", "#b8b8b8", "#9b1c1c", "#1a1a1a", "#1a1a1a"]}}
          }
        },
        {
          "data": {"name": "signal"},
          "mark": {"type": "line", "color": "#ff1010", "strokeWidth": 2, "interpolate": "monotone"},
          "encoding": {"x": {"field": "i", "type": "quantitative"}, "y": {"field": "v", "type": "quantitative"}}
        },
        {
          "data": {"values": [{}]},
          "mark": {"type": "rule", "color": "#0000ff", "strokeWidth": 2},
          "encoding": {"y": {"datum": 0}}
        },
        {
          "data": {"values": [{}]},
          "mark": {"type": "rule", "color": "#5f9f5f", "strokeWidth": 1, "strokeDash": [2, 2]},
          "encoding": {"y": {"datum": 101}}
        },
        {
          "data": {"name": "channel"},
          "mark": {"type": "line", "color": "#1010e0", "strokeWidth": 2},
          "encoding": {"x": {"field": "i", "type": "quantitative"}, "y": {"field": "v", "type": "quantitative"}, "detail": {"field": "s"}}
        },
        {
          "data": {"values": [{}]},
          "mark": {"type": "text", "color": "#555", "font": "Open Sans", "fontSize": 10.5, "align": "left", "baseline": "middle"},
          "encoding": {"x": {"datum": 2}, "y": {"datum": 91}, "text": {"value": "Volume Deviation_V4"}}
        }
      ]
    }
  ],
  "config": {
    "view": {"stroke": "#8c8c8c", "fill": "#ffffff"},
    "font": "Open Sans"
  }
}
